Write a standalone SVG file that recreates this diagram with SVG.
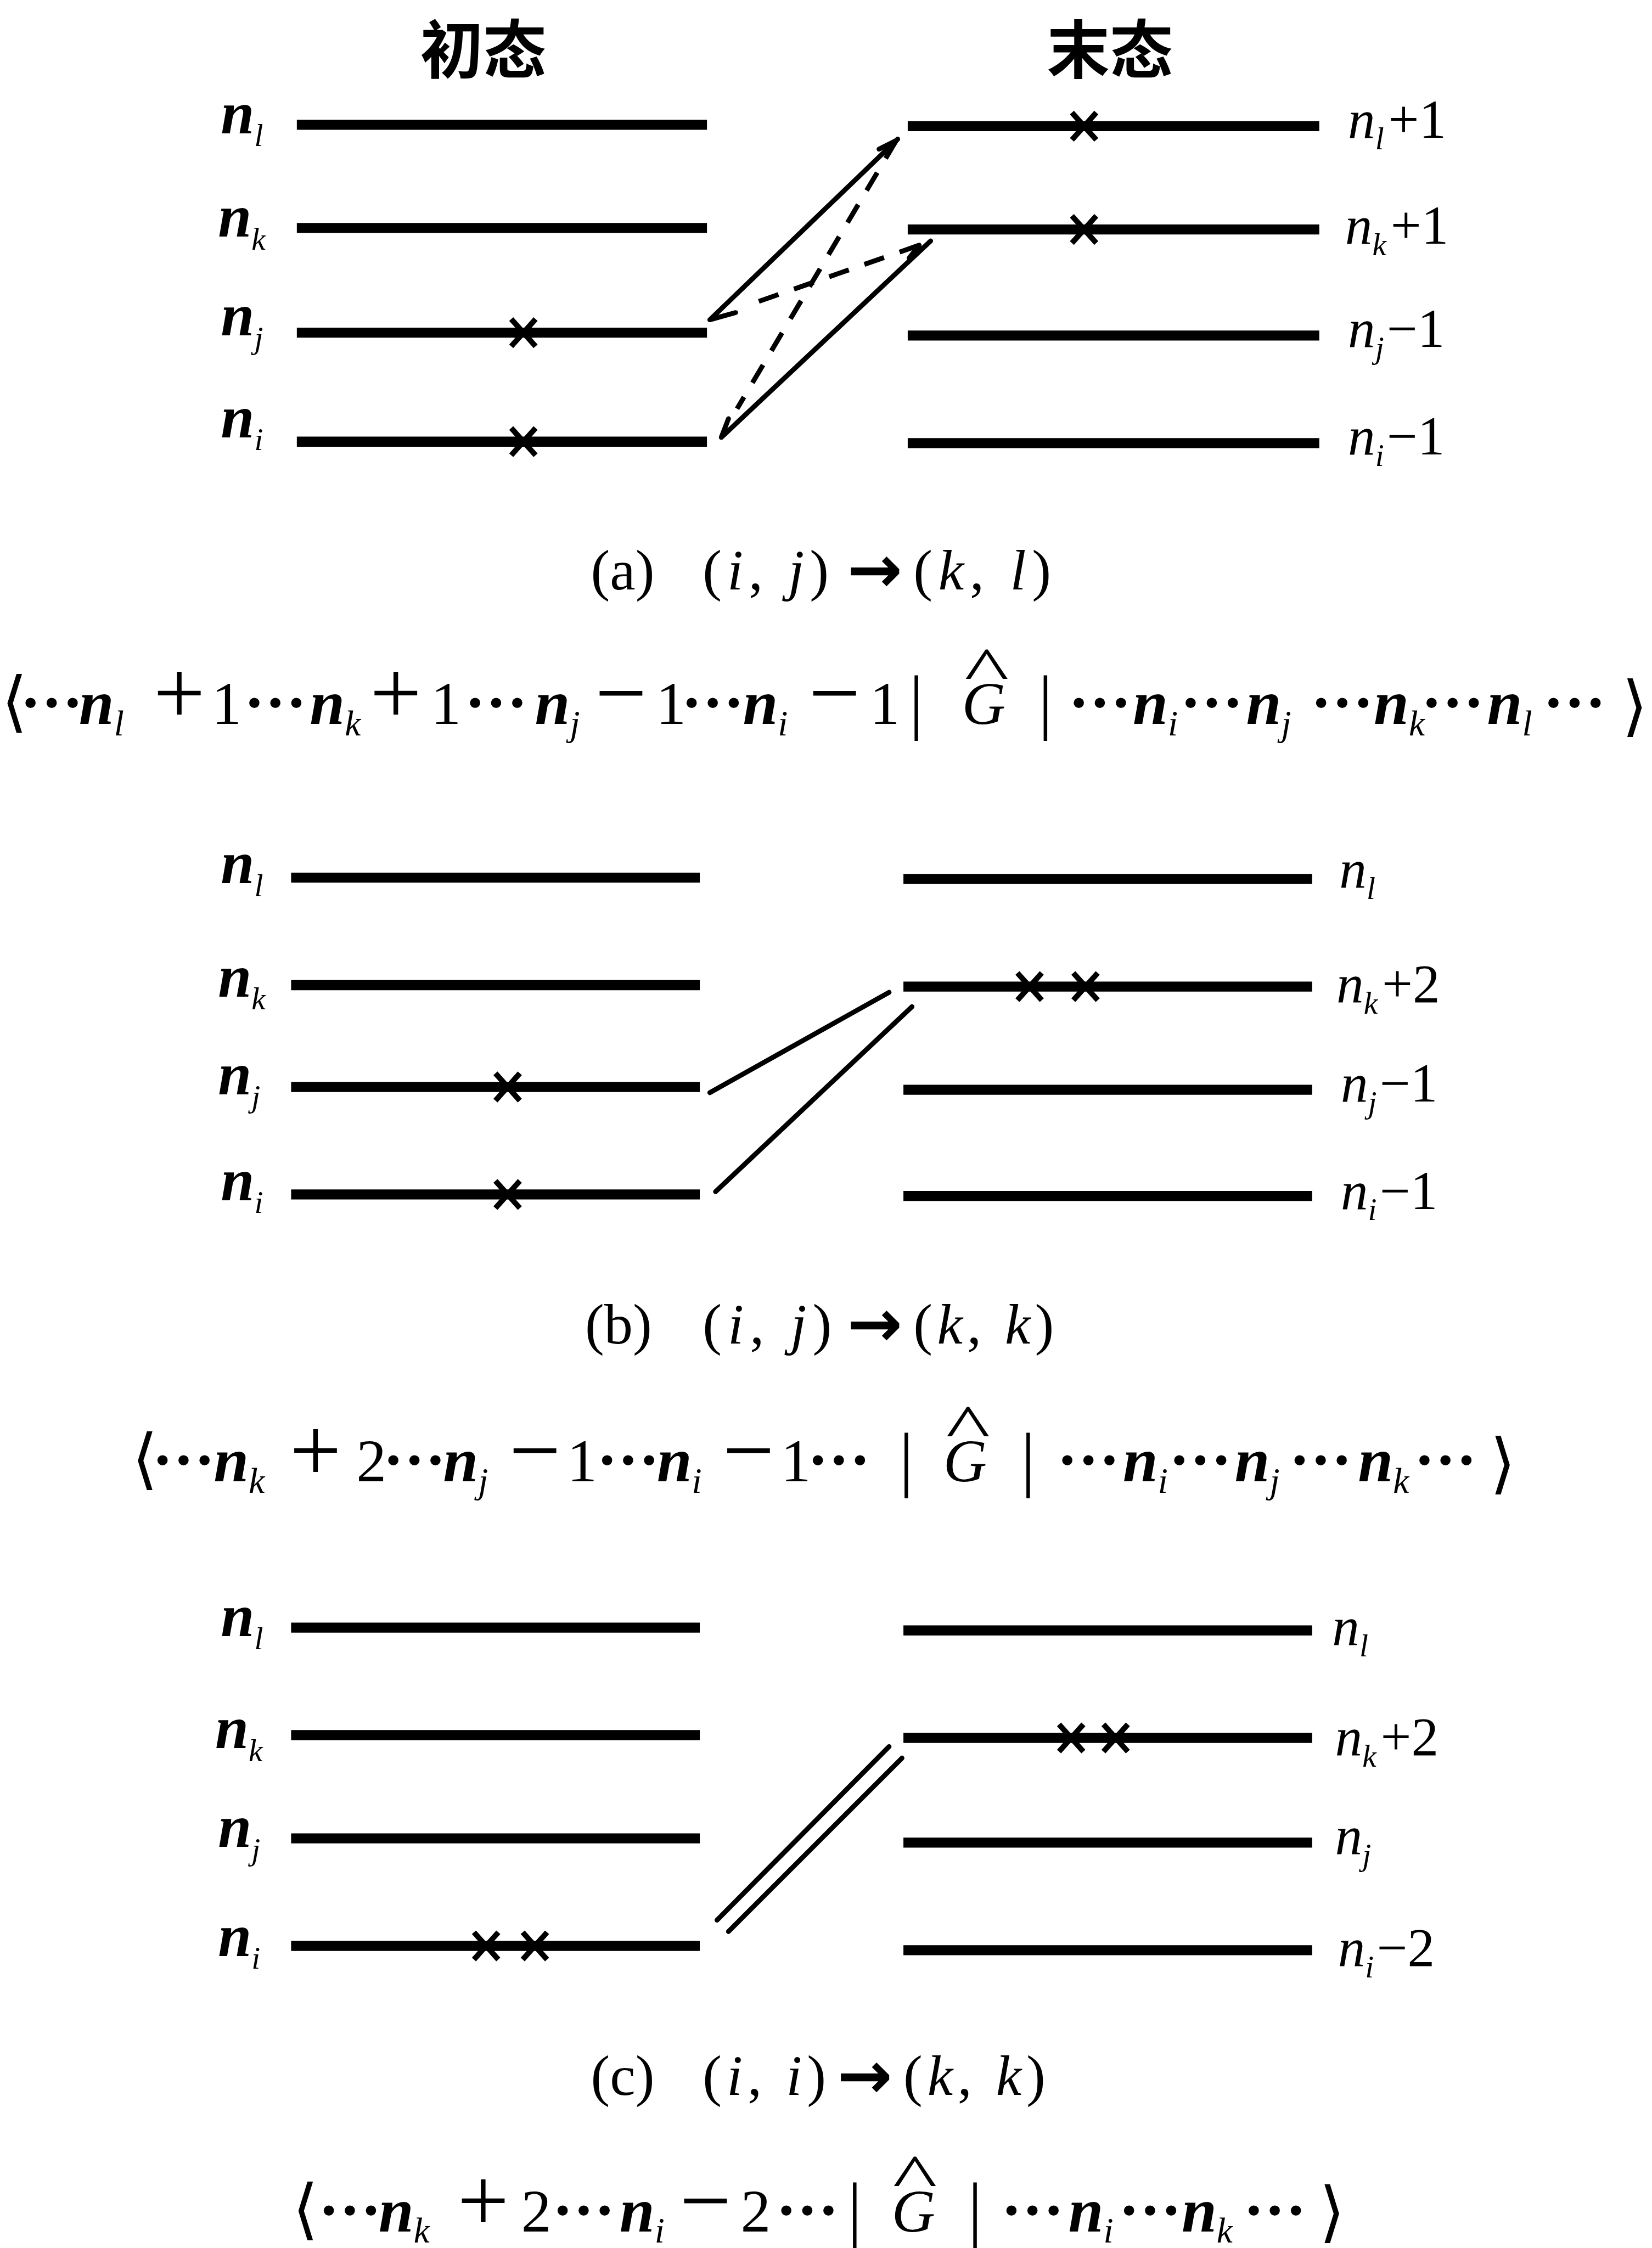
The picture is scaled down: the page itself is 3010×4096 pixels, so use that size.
<svg xmlns="http://www.w3.org/2000/svg" width="3010" height="4096" viewBox="0 0 3010 4096">
<defs>
<style>
.lv{stroke:#000;stroke-width:7;fill:none}
.cn{stroke:#000;stroke-width:3.4;fill:none;stroke-linecap:round;stroke-linejoin:round}
.ds{stroke-dasharray:14.5 11.5;stroke-linecap:butt}
.t{font-family:"Liberation Serif","Times New Roman",serif;fill:#000}
.cjk{font-family:"Noto Sans CJK SC","Noto Sans CJK JP",sans-serif;font-weight:700;font-size:44px;text-anchor:middle;fill:#000}
.ln{font-size:42px;font-style:italic;font-weight:700}
.rn{font-size:38px}
.i{font-style:italic}
.b{font-weight:700}
.sb{font-size:22px;font-style:italic;font-weight:400}
.fm{font-size:42px}
.fn{font-size:44px;font-style:italic;font-weight:700}
.fs{font-size:25px;font-style:italic;font-weight:400}
.mid{text-anchor:middle}
.pm{font-size:64px}
.dt{font-weight:700;font-size:44px}
.br{font-family:"DejaVu Sans",sans-serif;font-size:46px;text-anchor:middle;fill:#000}
.bar{font-size:50px;text-anchor:middle}
.lb{font-size:40px}
.ar{font-family:"DejaVu Sans",sans-serif;font-weight:700;font-size:46px;text-anchor:middle;fill:#000}
.hat{font-size:44px;text-anchor:middle}
</style>
<path id="x" d="M-8.5,-9.5 L8.5,9.5 M8.5,-9.5 L-8.5,9.5" stroke="#000" stroke-width="3.8" fill="none"/>
</defs>
<rect width="3010" height="4096" fill="#fff"/>
<g transform="scale(2.6128)">

<!-- titles -->
<text class="cjk" x="337" y="51">初态</text>
<text class="cjk" x="774" y="51">末态</text>

<!-- ===== panel (a) ===== -->
<g id="a-init-l"><line class="lv" x1="207" y1="87" x2="493" y2="87"/><text class="t ln" x="154" y="93">n<tspan class="sb" dy="9">l</tspan></text></g>
<g id="a-init-k"><line class="lv" x1="207" y1="159" x2="493" y2="159"/><text class="t ln" x="152" y="165">n<tspan class="sb" dy="9">k</tspan></text></g>
<g id="a-init-j"><line class="lv" x1="207" y1="232" x2="493" y2="232"/><use href="#x" x="365" y="232"/><text class="t ln" x="154" y="234">n<tspan class="sb" dy="9">j</tspan></text></g>
<g id="a-init-i"><line class="lv" x1="207" y1="308" x2="493" y2="308"/><use href="#x" x="365" y="308"/><text class="t ln" x="154" y="305">n<tspan class="sb" dy="9">i</tspan></text></g>

<g id="a-fin-l"><line class="lv" x1="633" y1="88" x2="920" y2="88"/><use href="#x" x="756" y="88"/><text class="t rn" x="940" y="96"><tspan class="i">n</tspan><tspan class="sb" dy="8">l</tspan><tspan dy="-8" dx="3">+1</tspan></text></g>
<g id="a-fin-k"><line class="lv" x1="633" y1="160" x2="920" y2="160"/><use href="#x" x="756" y="160"/><text class="t rn" x="938" y="170"><tspan class="i">n</tspan><tspan class="sb" dy="8">k</tspan><tspan dy="-8" dx="3">+1</tspan></text></g>
<g id="a-fin-j"><line class="lv" x1="633" y1="234" x2="920" y2="234"/><text class="t rn" x="940" y="242"><tspan class="i">n</tspan><tspan class="sb" dy="8">j</tspan><tspan dy="-8" dx="2">−1</tspan></text></g>
<g id="a-fin-i"><line class="lv" x1="633" y1="309" x2="920" y2="309"/><text class="t rn" x="940" y="317"><tspan class="i">n</tspan><tspan class="sb" dy="8">i</tspan><tspan dy="-8" dx="2">−1</tspan></text></g>

<g id="a-connectors">
<path class="cn" d="M626,97 L495,223 M495,223 L513,218"/>
<path class="cn" d="M649,168 L503,305 M503,305 L508,292"/>
<path class="cn ds" d="M625,98 L514,285"/>
<path class="cn" d="M625,98 L613,104"/>
<path class="cn ds" d="M641,171 L524,212"/>
<path class="cn" d="M641,171 L634,180"/>
</g>

<g id="a-caption" class="t">
<text class="lb" x="412" y="411">(a)</text>
<text class="lb" x="490" y="411" textLength="88" lengthAdjust="spacing">(<tspan class="i">i</tspan>, <tspan class="i">j</tspan>)</text>
<text class="ar" x="610" y="413">→</text>
<text class="lb" x="637" y="411" textLength="96" lengthAdjust="spacing">(<tspan class="i">k</tspan>, <tspan class="i">l</tspan>)</text>
</g>

<g id="a-formula" class="t">
<text class="br" x="10" y="505">⟨</text>
<text class="br" x="1140" y="508">⟩</text>
<text class="fm mid" y="505"><tspan class="dt" x="36">···</tspan><tspan class="pm" x="125">+</tspan><tspan x="158">1</tspan><tspan class="dt" x="192">···</tspan><tspan class="pm" x="276">+</tspan><tspan x="311">1</tspan><tspan class="dt" x="346">···</tspan><tspan class="pm" x="433">−</tspan><tspan x="468">1</tspan><tspan class="dt" x="497">···</tspan><tspan class="pm" x="582">−</tspan><tspan x="617">1</tspan><tspan class="i" x="686">G</tspan><tspan class="dt" x="767">···</tspan><tspan class="dt" x="845">···</tspan><tspan class="dt" x="936">···</tspan><tspan class="dt" x="1013">···</tspan><tspan class="dt" x="1098">···</tspan></text>
<text class="bar" y="506"><tspan x="639">|</tspan><tspan x="729">|</tspan></text>
<text class="hat" transform="translate(688,482) scale(1.5,1)">^</text>
<text class="fn" y="505"><tspan x="55">n</tspan><tspan class="fs" dy="8">l</tspan><tspan x="216" y="505">n</tspan><tspan class="fs" dy="8">k</tspan><tspan x="373" y="505">n</tspan><tspan class="fs" dy="8">j</tspan><tspan x="518" y="505">n</tspan><tspan class="fs" dy="8">i</tspan><tspan x="790" y="505">n</tspan><tspan class="fs" dy="8">i</tspan><tspan x="869" y="505">n</tspan><tspan class="fs" dy="8">j</tspan><tspan x="958" y="505">n</tspan><tspan class="fs" dy="8">k</tspan><tspan x="1037" y="505">n</tspan><tspan class="fs" dy="8">l</tspan></text>
</g>

<!-- ===== panel (b) ===== -->
<g id="b-init-l"><line class="lv" x1="203" y1="612" x2="488" y2="612"/><text class="t ln" x="154" y="616">n<tspan class="sb" dy="9">l</tspan></text></g>
<g id="b-init-k"><line class="lv" x1="203" y1="687" x2="488" y2="687"/><text class="t ln" x="152" y="695">n<tspan class="sb" dy="9">k</tspan></text></g>
<g id="b-init-j"><line class="lv" x1="203" y1="758" x2="488" y2="758"/><use href="#x" x="354" y="758"/><text class="t ln" x="152" y="763">n<tspan class="sb" dy="9">j</tspan></text></g>
<g id="b-init-i"><line class="lv" x1="203" y1="833" x2="488" y2="833"/><use href="#x" x="354" y="833"/><text class="t ln" x="154" y="837">n<tspan class="sb" dy="9">i</tspan></text></g>

<g id="b-fin-l"><line class="lv" x1="630" y1="613" x2="915" y2="613"/><text class="t rn" x="934" y="619"><tspan class="i">n</tspan><tspan class="sb" dy="8">l</tspan></text></g>
<g id="b-fin-k"><line class="lv" x1="630" y1="688" x2="915" y2="688"/><use href="#x" x="718" y="688"/><use href="#x" x="757" y="688"/><text class="t rn" x="932" y="699"><tspan class="i">n</tspan><tspan class="sb" dy="8">k</tspan><tspan dy="-8" dx="3">+2</tspan></text></g>
<g id="b-fin-j"><line class="lv" x1="630" y1="760" x2="915" y2="760"/><text class="t rn" x="935" y="768"><tspan class="i">n</tspan><tspan class="sb" dy="8">j</tspan><tspan dy="-8" dx="2">−1</tspan></text></g>
<g id="b-fin-i"><line class="lv" x1="630" y1="834" x2="915" y2="834"/><text class="t rn" x="935" y="843"><tspan class="i">n</tspan><tspan class="sb" dy="8">i</tspan><tspan dy="-8" dx="2">−1</tspan></text></g>

<g id="b-connectors">
<path class="cn" d="M495,762 L620,692"/>
<path class="cn" d="M499,831 L636,702"/>
</g>

<g id="b-caption" class="t">
<text class="lb" x="408" y="937">(b)</text>
<text class="lb" x="490" y="937" textLength="90" lengthAdjust="spacing">(<tspan class="i">i</tspan>, <tspan class="i">j</tspan>)</text>
<text class="ar" x="610" y="939">→</text>
<text class="lb" x="637" y="937" textLength="98" lengthAdjust="spacing">(<tspan class="i">k</tspan>, <tspan class="i">k</tspan>)</text>
</g>

<g id="b-formula" class="t">
<text class="br" x="101" y="1033">⟨</text>
<text class="br" x="1048" y="1036">⟩</text>
<text class="fm mid" y="1033"><tspan class="dt" x="128">···</tspan><tspan class="pm" x="220">+</tspan><tspan x="259">2</tspan><tspan class="dt" x="289">···</tspan><tspan class="pm" x="373">−</tspan><tspan x="406">1</tspan><tspan class="dt" x="438">···</tspan><tspan class="pm" x="522">−</tspan><tspan x="555">1</tspan><tspan class="dt" x="585">···</tspan><tspan class="i" x="673">G</tspan><tspan class="dt" x="759">···</tspan><tspan class="dt" x="837">···</tspan><tspan class="dt" x="921">···</tspan><tspan class="dt" x="1008">···</tspan></text>
<text class="bar" y="1034"><tspan x="632">|</tspan><tspan x="717">|</tspan></text>
<text class="hat" transform="translate(675,1010) scale(1.5,1)">^</text>
<text class="fn" y="1033"><tspan x="149">n</tspan><tspan class="fs" dy="8">k</tspan><tspan x="309" y="1033">n</tspan><tspan class="fs" dy="8">j</tspan><tspan x="458" y="1033">n</tspan><tspan class="fs" dy="8">i</tspan><tspan x="783" y="1033">n</tspan><tspan class="fs" dy="8">i</tspan><tspan x="861" y="1033">n</tspan><tspan class="fs" dy="8">j</tspan><tspan x="947" y="1033">n</tspan><tspan class="fs" dy="8">k</tspan></text>
</g>

<!-- ===== panel (c) ===== -->
<g id="c-init-l"><line class="lv" x1="203" y1="1135" x2="488" y2="1135"/><text class="t ln" x="154" y="1141">n<tspan class="sb" dy="9">l</tspan></text></g>
<g id="c-init-k"><line class="lv" x1="203" y1="1210" x2="488" y2="1210"/><text class="t ln" x="150" y="1219">n<tspan class="sb" dy="9">k</tspan></text></g>
<g id="c-init-j"><line class="lv" x1="203" y1="1282" x2="488" y2="1282"/><text class="t ln" x="152" y="1288">n<tspan class="sb" dy="9">j</tspan></text></g>
<g id="c-init-i"><line class="lv" x1="203" y1="1357" x2="488" y2="1357"/><use href="#x" x="339" y="1357"/><use href="#x" x="373" y="1357"/><text class="t ln" x="152" y="1364">n<tspan class="sb" dy="9">i</tspan></text></g>

<g id="c-fin-l"><line class="lv" x1="630" y1="1137" x2="915" y2="1137"/><text class="t rn" x="929" y="1147"><tspan class="i">n</tspan><tspan class="sb" dy="8">l</tspan></text></g>
<g id="c-fin-k"><line class="lv" x1="630" y1="1212" x2="915" y2="1212"/><use href="#x" x="747" y="1212"/><use href="#x" x="778" y="1212"/><text class="t rn" x="931" y="1224"><tspan class="i">n</tspan><tspan class="sb" dy="8">k</tspan><tspan dy="-8" dx="3">+2</tspan></text></g>
<g id="c-fin-j"><line class="lv" x1="630" y1="1285" x2="915" y2="1285"/><text class="t rn" x="931" y="1293"><tspan class="i">n</tspan><tspan class="sb" dy="8">j</tspan></text></g>
<g id="c-fin-i"><line class="lv" x1="630" y1="1360" x2="915" y2="1360"/><text class="t rn" x="933" y="1371"><tspan class="i">n</tspan><tspan class="sb" dy="8">i</tspan><tspan dy="-8" dx="2">−2</tspan></text></g>

<g id="c-connectors">
<path class="cn" d="M500,1339 L620,1218"/>
<path class="cn" d="M508,1347 L629,1226"/>
</g>

<g id="c-caption" class="t">
<text class="lb" x="412" y="1461">(c)</text>
<text class="lb" x="490" y="1461" textLength="86" lengthAdjust="spacing">(<tspan class="i">i</tspan>, <tspan class="i">i</tspan>)</text>
<text class="ar" x="603" y="1463">→</text>
<text class="lb" x="630" y="1461" textLength="99" lengthAdjust="spacing">(<tspan class="i">k</tspan>, <tspan class="i">k</tspan>)</text>
</g>

<g id="c-formula" class="t">
<text class="br" x="213" y="1556">⟨</text>
<text class="br" x="929" y="1558">⟩</text>
<text class="fm mid" y="1556"><tspan class="dt" x="244">···</tspan><tspan class="pm" x="337">+</tspan><tspan x="374">2</tspan><tspan class="dt" x="407">···</tspan><tspan class="pm" x="492">−</tspan><tspan x="527">2</tspan><tspan class="dt" x="563">···</tspan><tspan class="i" x="637">G</tspan><tspan class="dt" x="720">···</tspan><tspan class="dt" x="802">···</tspan><tspan class="dt" x="889">···</tspan></text>
<text class="bar" y="1557"><tspan x="596">|</tspan><tspan x="680">|</tspan></text>
<text class="hat" transform="translate(638,1533) scale(1.5,1)">^</text>
<text class="fn" y="1556"><tspan x="264">n</tspan><tspan class="fs" dy="8">k</tspan><tspan x="432" y="1556">n</tspan><tspan class="fs" dy="8">i</tspan><tspan x="745" y="1556">n</tspan><tspan class="fs" dy="8">i</tspan><tspan x="824" y="1556">n</tspan><tspan class="fs" dy="8">k</tspan></text>
</g>

</g>
</svg>
